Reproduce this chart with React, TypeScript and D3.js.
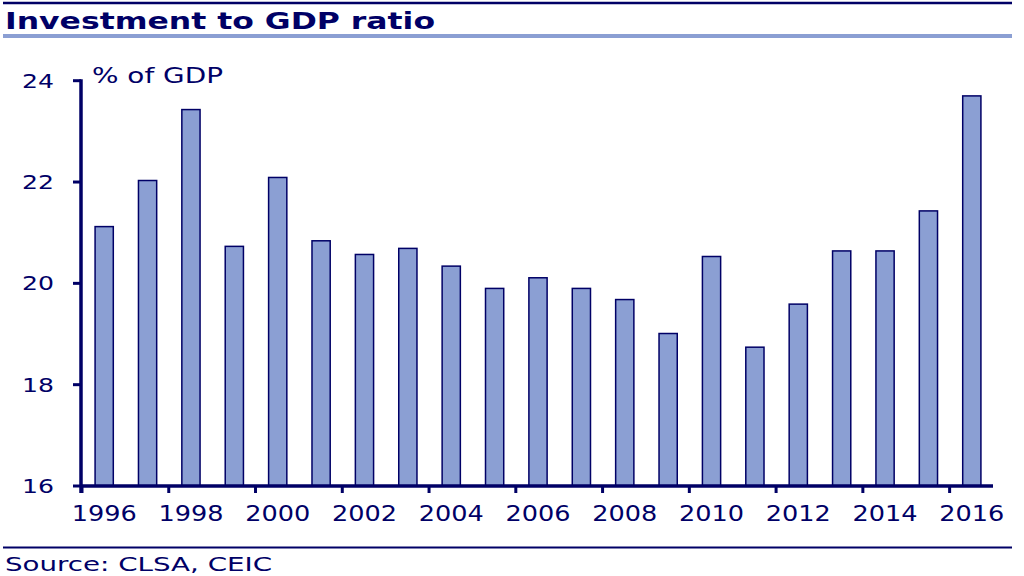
import React from 'react';
import * as d3 from 'd3';

const years = [
  '1996', '1997', '1998', '1999', '2000', '2001', '2002', '2003', '2004', '2005', '2006',
  '2007', '2008', '2009', '2010', '2011', '2012', '2013', '2014', '2015', '2016',
];
const ratio = [
  21.12, 22.03, 23.43, 20.73, 22.09, 20.84, 20.57, 20.69, 20.34, 19.9, 20.11,
  19.9, 19.68, 19.01, 20.53, 18.74, 19.59, 20.64, 20.64, 21.43, 23.7,
];
const yTicks = [16, 18, 20, 22, 24];
const xTickYears = ['1996', '1998', '2000', '2002', '2004', '2006', '2008', '2010', '2012', '2014', '2016'];

const NAVY = '#000066';
const BAR = '#8b9fd3';
const FONT = "'DejaVu Sans', Verdana, sans-serif";

const App = () => {
  const width = 1024;
  const height = 576;
  const left = 81;
  const right = 992;
  const top = 80.7;
  const bottom = 486;

  // bars sit in the middle of each year slot, ticks mark slot edges
  const x = d3.scaleBand().domain(years).range([left + 1.5, right + 1.5]).paddingInner(0.58).paddingOuter(0.29);
  const step = (right - left) / years.length;
  const y = d3.scaleLinear().domain([16, 24]).range([bottom, top]);

  return (
    <svg
      width={width}
      height={height}
      style={{ position: 'absolute', left: 0, top: 0, background: '#fff' }}
      fontFamily={FONT}
    >
      {/* header */}
      <line x1={3} x2={1012} y1={3} y2={3} stroke={NAVY} strokeWidth={2.5} />
      <text x={5} y={29} fontSize={22.5} fontWeight="bold" fill={NAVY} textLength={430} lengthAdjust="spacingAndGlyphs">
        Investment to GDP ratio
      </text>
      <line x1={3} x2={1012} y1={36} y2={36} stroke={BAR} strokeWidth={4} />

      {/* bars */}
      {years.map((yr, i) => (
        <rect
          key={yr}
          x={x(yr)}
          y={y(ratio[i])}
          width={x.bandwidth()}
          height={bottom - y(ratio[i])}
          fill={BAR}
          stroke={NAVY}
          strokeWidth={1.5}
        />
      ))}

      {/* y axis */}
      <line x1={left} x2={left} y1={top - 1.5} y2={bottom + 7} stroke={NAVY} strokeWidth={3.5} />
      {yTicks.map(t => (
        <g key={t}>
          <line x1={left - 8} x2={left} y1={y(t)} y2={y(t)} stroke={NAVY} strokeWidth={3} />
          <text
            x={54}
            y={y(t) + 7}
            textAnchor="end"
            fontSize={20}
            fill={NAVY}
            textLength={32}
            lengthAdjust="spacingAndGlyphs"
          >
            {t}
          </text>
        </g>
      ))}
      <text x={92} y={83} fontSize={20.5} fill={NAVY} textLength={131} lengthAdjust="spacingAndGlyphs">
        % of GDP
      </text>

      {/* x axis */}
      <line x1={left} x2={right + 1} y1={bottom} y2={bottom} stroke={NAVY} strokeWidth={3.5} />
      {xTickYears.map(yr => {
        const start = left + years.indexOf(yr) * step;
        return (
          <g key={yr}>
            <line x1={start + 1} x2={start + 1} y1={bottom} y2={bottom + 7} stroke={NAVY} strokeWidth={3} />
            <text
              x={start + step / 2 + 1.5}
              y={521}
              textAnchor="middle"
              fontSize={21}
              fill={NAVY}
              textLength={65}
              lengthAdjust="spacingAndGlyphs"
            >
              {yr}
            </text>
          </g>
        );
      })}

      {/* footer */}
      <line x1={3} x2={1012} y1={547.5} y2={547.5} stroke={NAVY} strokeWidth={2} />
      <text x={5} y={571} fontSize={19.5} fill={NAVY} textLength={267} lengthAdjust="spacingAndGlyphs">
        Source: CLSA, CEIC
      </text>
    </svg>
  );
};

export default App;
